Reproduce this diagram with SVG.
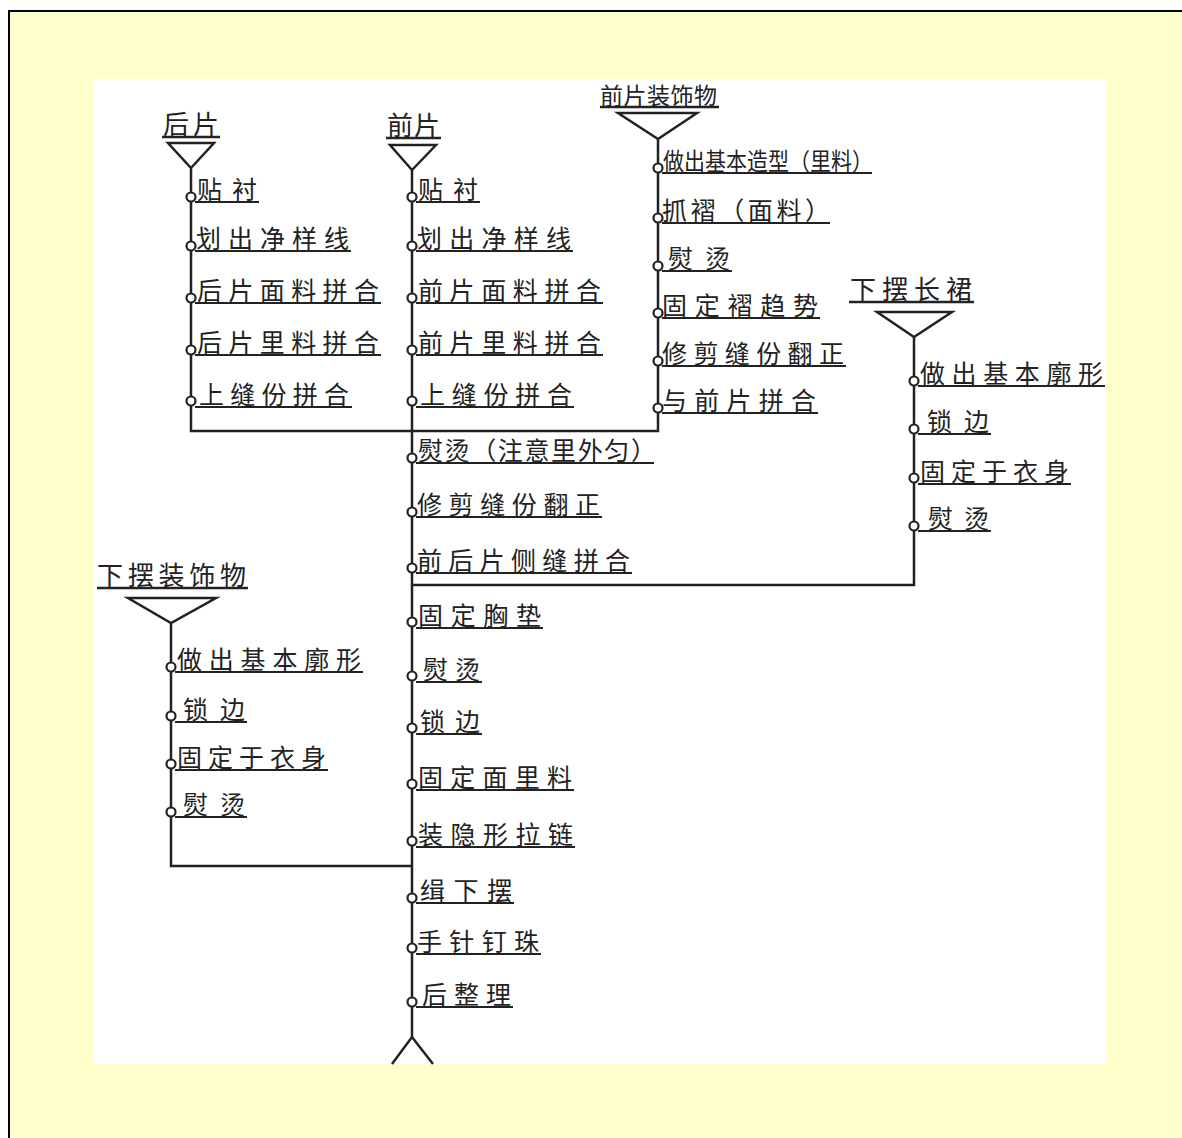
<svg xmlns="http://www.w3.org/2000/svg" width="1182" height="1138" viewBox="0 0 1182 1138">
<defs>
<style>
.t{font-family:"Noto Sans CJK SC","Liberation Sans",sans-serif;font-size:25px;fill:#222}
.tt{font-family:"Noto Sans CJK SC","Liberation Sans",sans-serif;font-size:26px;fill:#222}
.ul{stroke:#222;stroke-width:2;fill:none}
.tul{stroke:#222;stroke-width:2.6;fill:none}
.ln{stroke:#222;stroke-width:2.5;fill:none}
.tri{stroke:#222;stroke-width:2.5;fill:#fff;stroke-linejoin:miter}
.c{stroke:#222;stroke-width:2.2;fill:#fff}
</style>
</defs>
<rect x="0" y="0" width="1182" height="1138" fill="#fff"/>
<rect x="9" y="11" width="1200" height="1200" fill="#FFFFCC" stroke="#000" stroke-width="2"/>
<rect x="94" y="79" width="1012" height="985" fill="#fff"/>

<g id="connectors">
<path class="ln" d="M191 168 V431 H658 V139"/>
<path class="ln" d="M412 170 V1037"/>
<path class="ln" d="M914 337 V585 H412"/>
<path class="ln" d="M171 623 V866 H412"/>
<polyline class="ln" points="392,1064 412,1037 433,1064"/>
</g>

<g id="title-houpian">
<text class="tt" x="163" y="134" textLength="56" lengthAdjust="spacing">后片</text>
<line class="tul" x1="162" y1="137" x2="220" y2="137"/>
<polygon class="tri" points="168,143 214,143 191,168"/>
</g>
<g id="title-qianpian">
<text class="tt" x="387" y="135" textLength="53" lengthAdjust="spacing">前片</text>
<line class="tul" x1="386" y1="138" x2="441" y2="138"/>
<polygon class="tri" points="390,145 436,145 412,170"/>
</g>
<g id="title-qianpian-zhuangshi">
<text class="t" x="600" y="104" style="font-size:23px" textLength="117" lengthAdjust="spacing">前片装饰物</text>
<line class="tul" x1="600" y1="107" x2="719" y2="107"/>
<polygon class="tri" points="618,113 697,113 658,139"/>
</g>
<g id="title-xiabai-changqun">
<text class="tt" x="850" y="299" textLength="122" lengthAdjust="spacing">下摆长裙</text>
<line class="tul" x1="849" y1="302" x2="974" y2="302"/>
<polygon class="tri" points="877,312 952,312 914,337"/>
</g>
<g id="title-xiabai-zhuangshi">
<text class="tt" x="97" y="585" textLength="149" lengthAdjust="spacing">下摆装饰物</text>
<line class="tul" x1="97" y1="588" x2="248" y2="588"/>
<polygon class="tri" points="128,598 216,598 171,623"/>
</g>

<!-- 后片 column -->
<g id="hp1"><line class="ul" x1="195" y1="202" x2="259" y2="202"/><circle class="c" cx="191" cy="197" r="4.5"/><text class="t" x="197" y="199" textLength="60" lengthAdjust="spacing">贴衬</text></g>
<g id="hp2"><line class="ul" x1="195" y1="251" x2="351" y2="251"/><circle class="c" cx="191" cy="246" r="4.5"/><text class="t" x="196" y="248" textLength="153" lengthAdjust="spacing">划出净样线</text></g>
<g id="hp3"><line class="ul" x1="195" y1="303" x2="381" y2="303"/><circle class="c" cx="191" cy="298" r="4.5"/><text class="t" x="197" y="300" textLength="182" lengthAdjust="spacing">后片面料拼合</text></g>
<g id="hp4"><line class="ul" x1="195" y1="355" x2="381" y2="355"/><circle class="c" cx="191" cy="350" r="4.5"/><text class="t" x="197" y="352" textLength="182" lengthAdjust="spacing">后片里料拼合</text></g>
<g id="hp5"><line class="ul" x1="195" y1="407" x2="352" y2="407"/><circle class="c" cx="191" cy="401" r="4.5"/><text class="t" x="199" y="404" textLength="150" lengthAdjust="spacing">上缝份拼合</text></g>

<!-- 前片 column -->
<g id="qp1"><line class="ul" x1="416" y1="202" x2="480" y2="202"/><circle class="c" cx="412" cy="197" r="4.5"/><text class="t" x="418" y="199" textLength="60" lengthAdjust="spacing">贴衬</text></g>
<g id="qp2"><line class="ul" x1="416" y1="251" x2="573" y2="251"/><circle class="c" cx="412" cy="246" r="4.5"/><text class="t" x="417" y="248" textLength="154" lengthAdjust="spacing">划出净样线</text></g>
<g id="qp3"><line class="ul" x1="416" y1="303" x2="603" y2="303"/><circle class="c" cx="412" cy="298" r="4.5"/><text class="t" x="418" y="300" textLength="183" lengthAdjust="spacing">前片面料拼合</text></g>
<g id="qp4"><line class="ul" x1="416" y1="355" x2="603" y2="355"/><circle class="c" cx="412" cy="350" r="4.5"/><text class="t" x="418" y="352" textLength="183" lengthAdjust="spacing">前片里料拼合</text></g>
<g id="qp5"><line class="ul" x1="416" y1="407" x2="574" y2="407"/><circle class="c" cx="412" cy="401" r="4.5"/><text class="t" x="420" y="404" textLength="152" lengthAdjust="spacing">上缝份拼合</text></g>

<!-- 前片装饰物 column -->
<g id="zs1"><line class="ul" x1="662" y1="173" x2="872" y2="173"/><circle class="c" cx="658" cy="168" r="4.5"/><text class="t" x="663" y="170" style="font-size:24px" textLength="210" lengthAdjust="spacingAndGlyphs">做出基本造型（里料）</text></g>
<g id="zs2"><line class="ul" x1="662" y1="223" x2="830" y2="223"/><circle class="c" cx="658" cy="218" r="4.5"/><text class="t" x="662" y="220" textLength="168" lengthAdjust="spacing">抓褶（面料）</text></g>
<g id="zs3"><line class="ul" x1="662" y1="271" x2="732" y2="271"/><circle class="c" cx="658" cy="266" r="4.5"/><text class="t" x="668" y="268" textLength="62" lengthAdjust="spacing">熨烫</text></g>
<g id="zs4"><line class="ul" x1="662" y1="318" x2="820" y2="318"/><circle class="c" cx="658" cy="313" r="4.5"/><text class="t" x="662" y="315" textLength="156" lengthAdjust="spacing">固定褶趋势</text></g>
<g id="zs5"><line class="ul" x1="662" y1="366" x2="846" y2="366"/><circle class="c" cx="658" cy="361" r="4.5"/><text class="t" x="662" y="363" textLength="182" lengthAdjust="spacing">修剪缝份翻正</text></g>
<g id="zs6"><line class="ul" x1="662" y1="413" x2="818" y2="413"/><circle class="c" cx="658" cy="408" r="4.5"/><text class="t" x="662" y="410" textLength="154" lengthAdjust="spacing">与前片拼合</text></g>

<!-- main trunk -->
<g id="m1"><line class="ul" x1="416" y1="463" x2="654" y2="463"/><circle class="c" cx="412" cy="458" r="4.5"/><text class="t" x="418" y="460" textLength="238" lengthAdjust="spacing">熨烫（注意里外匀）</text></g>
<g id="m2"><line class="ul" x1="416" y1="517" x2="602" y2="517"/><circle class="c" cx="412" cy="512" r="4.5"/><text class="t" x="417" y="514" textLength="183" lengthAdjust="spacing">修剪缝份翻正</text></g>
<g id="m3"><line class="ul" x1="416" y1="573" x2="632" y2="573"/><circle class="c" cx="412" cy="568" r="4.5"/><text class="t" x="417" y="570" textLength="213" lengthAdjust="spacing">前后片侧缝拼合</text></g>
<g id="m4"><line class="ul" x1="416" y1="628" x2="543" y2="628"/><circle class="c" cx="412" cy="622" r="4.5"/><text class="t" x="418" y="625" textLength="123" lengthAdjust="spacing">固定胸垫</text></g>
<g id="m5"><line class="ul" x1="416" y1="682" x2="482" y2="682"/><circle class="c" cx="412" cy="676" r="4.5"/><text class="t" x="423" y="679" textLength="57" lengthAdjust="spacing">熨烫</text></g>
<g id="m6"><line class="ul" x1="416" y1="734" x2="482" y2="734"/><circle class="c" cx="412" cy="728" r="4.5"/><text class="t" x="420" y="731" textLength="60" lengthAdjust="spacing">锁边</text></g>
<g id="m7"><line class="ul" x1="416" y1="790" x2="574" y2="790"/><circle class="c" cx="412" cy="784" r="4.5"/><text class="t" x="418" y="787" textLength="154" lengthAdjust="spacing">固定面里料</text></g>
<g id="m8"><line class="ul" x1="416" y1="847" x2="575" y2="847"/><circle class="c" cx="412" cy="841" r="4.5"/><text class="t" x="418" y="844" textLength="155" lengthAdjust="spacing">装隐形拉链</text></g>
<g id="m9"><line class="ul" x1="416" y1="903" x2="514" y2="903"/><circle class="c" cx="412" cy="898" r="4.5"/><text class="t" x="420" y="900" textLength="92" lengthAdjust="spacing">缉下摆</text></g>
<g id="m10"><line class="ul" x1="416" y1="954" x2="541" y2="954"/><circle class="c" cx="412" cy="948" r="4.5"/><text class="t" x="417" y="951" textLength="122" lengthAdjust="spacing">手针钉珠</text></g>
<g id="m11"><line class="ul" x1="416" y1="1007" x2="513" y2="1007"/><circle class="c" cx="412" cy="1002" r="4.5"/><text class="t" x="422" y="1004" textLength="89" lengthAdjust="spacing">后整理</text></g>

<!-- 下摆长裙 column -->
<g id="cq1"><line class="ul" x1="918" y1="386" x2="1105" y2="386"/><circle class="c" cx="914" cy="381" r="4.5"/><text class="t" x="920" y="383" textLength="183" lengthAdjust="spacing">做出基本廓形</text></g>
<g id="cq2"><line class="ul" x1="918" y1="434" x2="991" y2="434"/><circle class="c" cx="914" cy="429" r="4.5"/><text class="t" x="927" y="431" textLength="62" lengthAdjust="spacing">锁边</text></g>
<g id="cq3"><line class="ul" x1="918" y1="484" x2="1071" y2="484"/><circle class="c" cx="914" cy="478" r="4.5"/><text class="t" x="920" y="481" textLength="149" lengthAdjust="spacing">固定于衣身</text></g>
<g id="cq4"><line class="ul" x1="918" y1="531" x2="991" y2="531"/><circle class="c" cx="914" cy="526" r="4.5"/><text class="t" x="928" y="528" textLength="61" lengthAdjust="spacing">熨烫</text></g>

<!-- 下摆装饰物 column -->
<g id="xz1"><line class="ul" x1="175" y1="672" x2="363" y2="672"/><circle class="c" cx="171" cy="667" r="4.5"/><text class="t" x="177" y="669" textLength="184" lengthAdjust="spacing">做出基本廓形</text></g>
<g id="xz2"><line class="ul" x1="175" y1="722" x2="247" y2="722"/><circle class="c" cx="171" cy="716" r="4.5"/><text class="t" x="183" y="719" textLength="62" lengthAdjust="spacing">锁边</text></g>
<g id="xz3"><line class="ul" x1="175" y1="770" x2="328" y2="770"/><circle class="c" cx="171" cy="764" r="4.5"/><text class="t" x="177" y="767" textLength="149" lengthAdjust="spacing">固定于衣身</text></g>
<g id="xz4"><line class="ul" x1="175" y1="817" x2="247" y2="817"/><circle class="c" cx="171" cy="812" r="4.5"/><text class="t" x="183" y="814" textLength="62" lengthAdjust="spacing">熨烫</text></g>
</svg>
